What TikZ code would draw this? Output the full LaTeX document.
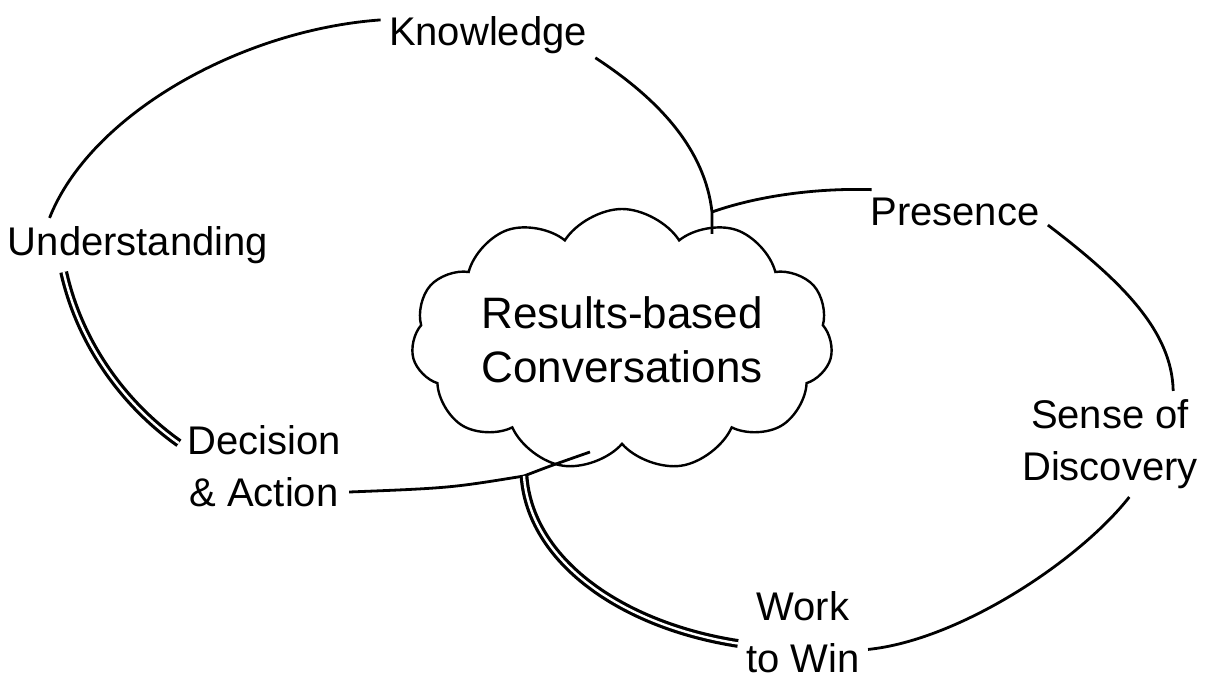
\documentclass[tikz,border=0pt]{standalone}
\usepackage{fontspec}
\setmainfont{Liberation Sans}
\usetikzlibrary{shapes.symbols}
\newlength{\du}
\setlength{\du}{0.5pt}
\tikzset{
  lbl/.style={font=\fontsize{20}{26}\selectfont, align=center, inner sep=4pt, text=dialinecolor},
  talk/.style={cloud, cloud puffs=11, cloud puff arc=115, cloud ignores aspect, draw=dialinecolor,
    line width=2.400000\du, minimum width=420.000000\du, minimum height=262.000000\du,
    font=\fontsize{22}{27}\selectfont, align=center},
  thinline/.style={draw=dialinecolor, line width=2.800000\du},
  dblline/.style={draw=dialinecolor, double=white, line width=3.200000\du, double distance=2.400000\du},
}

\begin{document}
\begin{tikzpicture}
\pgftransformxscale{1.000000}
\pgftransformyscale{-1.000000}
\definecolor{dialinecolor}{rgb}{0.000000, 0.000000, 0.000000}
\pgfsetstrokecolor{dialinecolor}
\useasboundingbox (0.000000\du,0.000000\du) rectangle (1211.000000\du,699.000000\du);
% setfont left to latex
\node[lbl] (knowledge) at (488.000000\du,35.000000\du){Knowledge};
\node[lbl] (understanding) at (138.000000\du,245.000000\du){Understanding};
\node[lbl] (presence) at (955.000000\du,212.000000\du){Presence};
\node[lbl] (decision) at (264.000000\du,466.000000\du){Decision\\\& Action};
\node[lbl] (discovery) at (1110.000000\du,444.000000\du){Sense of\\Discovery};
\node[lbl] (work) at (803.000000\du,632.000000\du){Work\\to Win};
\node[talk] (results) at (622.000000\du,340.000000\du){Results-based\\Conversations};
\coordinate (jtop) at (712.000000\du,212.000000\du);
\coordinate (ctop) at (712.000000\du,234.000000\du);
\coordinate (jbot) at (524.000000\du,476.000000\du);
\coordinate (cbot) at (590.000000\du,452.000000\du);
% left loop
\draw[thinline] (knowledge.172) .. controls (240.000000\du,30.000000\du) and (90.000000\du,115.000000\du) .. (understanding.163);
\draw[thinline] (knowledge.-12) .. controls (660.000000\du,100.000000\du) and (705.000000\du,150.000000\du) .. (jtop) -- (ctop);
\draw[dblline] (understanding.-160) .. controls (80.000000\du,345.000000\du) and (125.000000\du,405.000000\du) .. (decision.165);
\draw[thinline] (decision.-17) .. controls (450.000000\du,488.000000\du) .. (jbot) .. controls (550.000000\du,466.000000\du) .. (cbot);
% right loop
\draw[thinline] (jtop) .. controls (760.000000\du,195.000000\du) and (820.000000\du,188.000000\du) .. (presence.165);
\draw[thinline] (presence.-8) .. controls (1120.000000\du,280.000000\du) and (1172.000000\du,330.000000\du) .. (discovery.40);
\draw[thinline] (discovery.-70) .. controls (1080.000000\du,560.000000\du) and (960.000000\du,640.000000\du) .. (work.-15);
\draw[dblline] (jbot) .. controls (530.000000\du,560.000000\du) and (620.000000\du,625.000000\du) .. (work.-170);
\end{tikzpicture}
\end{document}
